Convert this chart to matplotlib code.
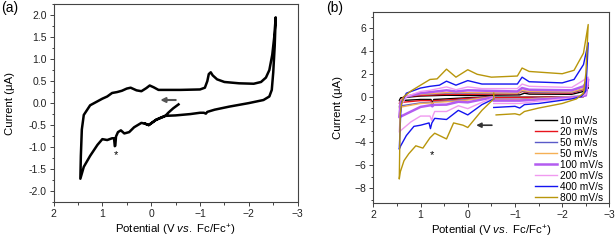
import numpy as np
import matplotlib
matplotlib.use("Agg")
import matplotlib.pyplot as plt
from matplotlib.ticker import MultipleLocator, FormatStrFormatter

plt.rcParams["font.family"] = ["Liberation Sans", "DejaVu Sans"]
plt.rcParams["mathtext.fontset"] = "custom"
plt.rcParams["mathtext.rm"] = "Liberation Sans"
plt.rcParams["mathtext.it"] = "Liberation Sans:italic"

# ---- panel (a): single scan ----
a_V = [-0.56, -0.45, -0.35, -0.3, -0.1, 0.0, 0.05, 0.12, 0.2, 0.35, 0.45, 0.55, 0.62,
       0.68, 0.72, 0.735, 0.745, 0.76, 0.8, 0.9, 1.0, 1.1, 1.25, 1.38, 1.45,
       1.44, 1.42, 1.38, 1.25, 1.0, 0.9, 0.8, 0.7, 0.6, 0.5, 0.42, 0.3, 0.2, 0.1, 0.03,
       -0.05, -0.15, -0.3, -0.6, -1.0, -1.1, -1.15, -1.18, -1.22, -1.26, -1.35, -1.5,
       -1.8, -2.1, -2.25, -2.35, -2.42, -2.48, -2.52, -2.55,
       -2.53, -2.5, -2.47, -2.42, -2.3, -2.0, -1.6, -1.3, -1.15, -1.12, -1.08, -1.0,
       -0.8, -0.5, -0.3, -0.1, 0.0, 0.05, 0.12]
a_I = [-0.03, -0.12, -0.22, -0.28, -0.38, -0.46, -0.5, -0.47, -0.45, -0.55, -0.66, -0.69, -0.62,
       -0.66, -0.76, -0.97, -0.98, -0.8, -0.8, -0.84, -0.82, -0.95, -1.2, -1.45, -1.72,
       -1.2, -0.6, -0.27, -0.05, 0.1, 0.15, 0.23, 0.25, 0.28, 0.33, 0.35, 0.29, 0.27, 0.34, 0.4,
       0.36, 0.3, 0.3, 0.3, 0.31, 0.35, 0.5, 0.66, 0.7, 0.63, 0.54, 0.48,
       0.45, 0.44, 0.48, 0.58, 0.75, 1.1, 1.5, 1.95,
       1.3, 0.7, 0.3, 0.15, 0.07, 0.0, -0.08, -0.15, -0.2, -0.24, -0.22, -0.22,
       -0.25, -0.28, -0.29, -0.38, -0.46, -0.5, -0.47]

# ---- panel (b): scan-rate series ----
rates = ["10 mV/s", "20 mV/s", "50 mV/s", "50 mV/s", "100 mV/s",
         "200 mV/s", "400 mV/s", "800 mV/s"]
colors = ["#000000", "#e8141c", "#5a5ac8", "#f5b055", "#b35cf0",
          "#f09af0", "#1414f0", "#b8960b"]
widths = [1.0, 1.0, 1.0, 1.0, 1.8, 1.0, 1.0, 1.0]

b_V_10 = [-0.55, 0.0, 0.45, 0.72, 0.75, 0.78, 1.0, 1.45, 1.42, 1.0, 0.45, 0.0,
          -1.1, -1.2, -1.3, -2.2, -2.5, -2.55, -2.45, -1.5, -0.55]
b_I_10 = [0.0, -0.1, -0.2, -0.25, -0.55, -0.25, -0.25, -0.35, -0.1, 0.05, 0.12, 0.1,
          0.15, 0.3, 0.22, 0.2, 0.5, 0.8, 0.0, -0.05, -0.05]

b_V_20 = [-0.55, 0.0, 0.45, 0.72, 0.75, 0.78, 1.0, 1.4, 1.45, 1.42, 1.35, 1.0, 0.45,
          0.0, -1.05, -1.15, -1.3, -2.2, -2.45, -2.55, -2.45, -1.5, -0.55]
b_I_20 = [0.0, -0.15, -0.3, -0.35, -0.75, -0.35, -0.35, -0.5, -0.6, -0.3, 0.0, 0.1, 0.2,
          0.2, 0.25, 0.45, 0.35, 0.3, 0.6, 1.0, 0.0, -0.05, -0.1]

b_V_50a = [-0.55, 0.0, 0.45, 0.72, 0.75, 0.78, 1.0, 1.4, 1.45, 1.42, 1.3, 1.0, 0.45,
           0.0, -1.05, -1.15, -1.3, -2.2, -2.45, -2.55, -2.45, -1.5, -1.1, -0.55]
b_I_50a = [0.0, -0.25, -0.4, -0.45, -0.7, -0.5, -0.55, -0.8, -0.9, -0.3, 0.05, 0.18, 0.3,
           0.3, 0.28, 0.5, 0.4, 0.35, 0.65, 1.1, 0.05, -0.12, -0.22, -0.22]

b_V_50b = [-0.55, 0.0, 0.45, 0.72, 0.75, 0.78, 1.0, 1.4, 1.45, 1.42, 1.3, 1.0, 0.45,
           0.0, -1.05, -1.15, -1.3, -2.2, -2.45, -2.55, -2.45, -1.5, -1.1, -0.55]
b_I_50b = [0.0, -0.3, -0.45, -0.5, -0.6, -0.55, -0.6, -0.9, -1.0, -0.3, 0.05, 0.2, 0.35,
           0.35, 0.3, 0.55, 0.45, 0.4, 0.7, 1.2, 0.05, -0.15, -0.25, -0.25]

b_V_100 = [-0.55, -0.3, 0.0, 0.2, 0.45, 0.72, 0.75, 0.78, 1.0, 1.4, 1.45, 1.42, 1.3, 1.0,
           0.45, 0.25, 0.0, -1.05, -1.15, -1.3, -2.2, -2.45, -2.55, -2.5, -2.3, -1.5,
           -1.1, -0.55]
b_I_100 = [-0.05, -0.25, -0.5, -0.45, -0.7, -0.72, -0.85, -0.75, -0.9, -1.7, -1.8, -0.5,
           0.0, 0.3, 0.55, 0.45, 0.55, 0.45, 0.75, 0.6, 0.55, 0.9, 1.5, 0.1, -0.05, -0.25,
           -0.35, -0.35]

b_V_200 = [-0.55, -0.3, 0.0, 0.2, 0.45, 0.7, 0.74, 0.76, 0.8, 1.0, 1.2, 1.4, 1.45,
           1.42, 1.3, 1.0, 0.8, 0.45, 0.25, 0.0, -0.3, -1.05, -1.15, -1.3, -2.2, -2.4,
           -2.55, -2.5, -2.3, -1.5, -1.1, -0.55]
b_I_200 = [-0.1, -0.5, -1.05, -0.8, -1.3, -1.3, -1.7, -2.1, -1.7, -1.7, -2.2, -2.9, -3.1,
           -0.8, 0.0, 0.45, 0.55, 0.85, 0.6, 0.85, 0.7, 0.7, 1.1, 0.9, 0.8, 1.3,
           1.7, 0.2, -0.1, -0.4, -0.6, -0.6]

b_V_400 = [-0.55, -0.3, 0.0, 0.2, 0.45, 0.7, 0.76, 0.79, 0.82, 1.0, 1.14, 1.3, 1.42, 1.45,
           1.42, 1.4, 1.3, 1.0, 0.8, 0.6, 0.45, 0.25, 0.0, -0.3, -1.05, -1.15, -1.3,
           -2.0, -2.25, -2.45, -2.55, -2.5, -2.4, -2.2, -1.5, -1.2, -1.1, -1.0, -0.55]
b_I_400 = [-0.2, -0.7, -1.6, -1.2, -2.0, -1.9, -2.3, -2.8, -2.3, -2.5, -2.6, -3.4, -4.3, -4.6,
           -1.5, -0.5, 0.3, 0.75, 0.9, 1.0, 1.35, 1.0, 1.4, 1.1, 1.1, 1.7, 1.3,
           1.2, 1.5, 2.8, 4.7, 0.5, 0.0, -0.2, -0.6, -0.7, -1.0, -0.85, -0.95]

b_V_800 = [-0.55, -0.55, -0.3, -0.1, 0.0, 0.1, 0.3, 0.45, 0.55, 0.7, 0.8, 0.95, 1.1, 1.25,
           1.35, 1.43, 1.45, 1.43, 1.4, 1.35, 1.2, 1.0, 0.8, 0.65, 0.45, 0.25, 0.0, -0.2,
           -0.5, -1.05, -1.15, -1.3, -2.0, -2.25, -2.45, -2.55, -2.5, -2.45, -2.3, -2.0,
           -1.5, -1.2, -1.1, -1.0, -0.6]
b_I_800 = [0.3, -0.2, -1.2, -2.2, -2.7, -2.5, -2.3, -3.7, -3.5, -3.2, -3.6, -4.5, -4.3, -5.0,
           -5.6, -6.6, -7.2, -1.5, -0.6, 0.0, 0.5, 1.0, 1.5, 1.55, 2.4, 1.7, 2.35, 1.95,
           1.7, 1.8, 2.5, 2.2, 2.0, 2.3, 3.8, 6.3, 2.0, 0.3, -0.2, -0.6,
           -1.0, -1.3, -1.6, -1.5, -1.6]

b_V = [b_V_10, b_V_20, b_V_50a, b_V_50b, b_V_100, b_V_200, b_V_400, b_V_800]
b_I = [b_I_10, b_I_20, b_I_50a, b_I_50b, b_I_100, b_I_200, b_I_400, b_I_800]

fig = plt.figure(figsize=(6.15, 2.44), dpi=100)
ax1 = fig.add_axes([0.087, 0.172, 0.397, 0.811])
ax2 = fig.add_axes([0.607, 0.168, 0.384, 0.783])

xlab = r"Potential (V $\it{vs.}$ Fc/Fc$^{+}$)"

# panel (a)
ax1.plot(a_V, a_I, color="black", lw=1.8, solid_joinstyle="round")
ax1.annotate("", xy=(-0.13, 0.07), xytext=(-0.56, 0.07),
             arrowprops=dict(arrowstyle="-|>", color="#555555", lw=1.5,
                             mutation_scale=7))
ax1.text(0.72, -1.18, "*", ha="center", va="center", fontsize=8)
ax1.set_xlim(2, -3)
ax1.set_ylim(-2.25, 2.25)
ax1.xaxis.set_major_locator(MultipleLocator(1))
ax1.xaxis.set_minor_locator(MultipleLocator(0.5))
ax1.yaxis.set_major_locator(MultipleLocator(0.5))
ax1.yaxis.set_minor_locator(MultipleLocator(0.25))
ax1.yaxis.set_major_formatter(FormatStrFormatter("%.1f"))
ax1.set_xlabel(xlab, fontsize=8.2, labelpad=3)
ax1.set_ylabel("Current (μA)", fontsize=8.2, labelpad=10)
fig.text(0.002, 0.995, "(a)", fontsize=10, va="top")

# panel (b)
for V, I, c, w, lab in zip(b_V, b_I, colors, widths, rates):
    ax2.plot(V, I, color=c, lw=w, label=lab)
ax2.annotate("", xy=(-0.12, -2.5), xytext=(-0.57, -2.5),
             arrowprops=dict(arrowstyle="-|>", color="#333333", lw=1.2,
                             mutation_scale=7))
ax2.text(0.76, -5.1, "*", ha="center", va="center", fontsize=8)
ax2.set_xlim(2, -3)
ax2.set_ylim(-9.3, 7.4)
ax2.xaxis.set_major_locator(MultipleLocator(1))
ax2.xaxis.set_minor_locator(MultipleLocator(0.5))
ax2.yaxis.set_major_locator(MultipleLocator(2))
ax2.yaxis.set_minor_locator(MultipleLocator(1))
ax2.set_xlabel(xlab, fontsize=8.2, labelpad=3)
ax2.set_ylabel("Current (μA)", fontsize=8.2, labelpad=8)
ax2.legend(loc="lower right", bbox_to_anchor=(1.0, -0.03), frameon=False,
           fontsize=7.3, handlelength=2.2, handletextpad=0.3, labelspacing=0.1,
           borderaxespad=0.2)
fig.text(0.531, 0.995, "(b)", fontsize=10, va="top")

for ax in (ax1, ax2):
    for s in ax.spines.values():
        s.set_color("#444444")
        s.set_linewidth(0.8)
    ax.tick_params(which="major", direction="out", length=3, width=0.6,
                   labelsize=7.5, colors="#222222", pad=2)
    ax.tick_params(which="minor", direction="out", length=1.8, width=0.6,
                   colors="#222222")

fig.savefig("out.png", dpi=100)
